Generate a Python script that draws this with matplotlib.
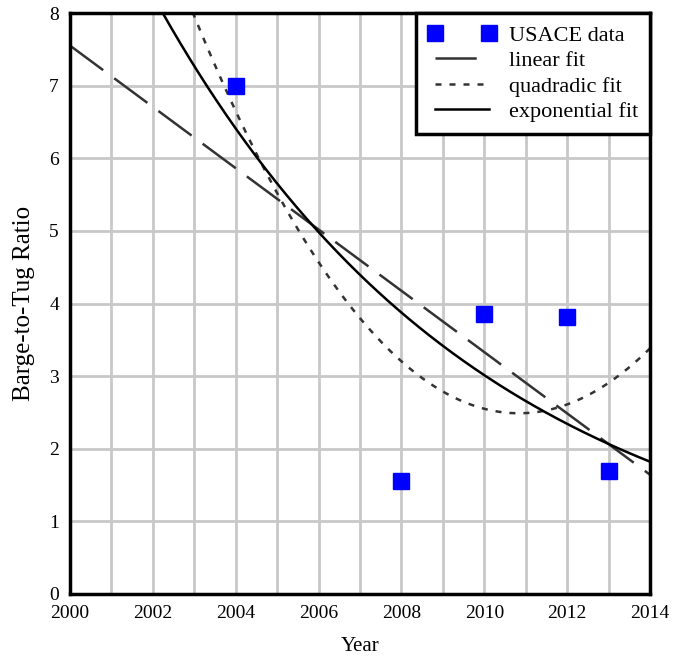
import numpy as np
import matplotlib.pyplot as plt

plt.rcParams['font.family'] = ['Liberation Serif', 'DejaVu Serif']

years = np.array([2004, 2008, 2010, 2012, 2013])
ratio = np.array([7.0, 1.55, 3.85, 3.82, 1.7])

# fits computed from the data points
t = years - 2000.0
lin = np.polyfit(t, ratio, 1)
quad = np.polyfit(t, ratio, 2)

# exponential fit y = a*exp(b*t), least squares in y
best = None
for b in np.linspace(-0.5, 0.0, 5001):
    e = np.exp(b * t)
    a = np.sum(e * ratio) / np.sum(e * e)
    err = np.sum((ratio - a * e) ** 2)
    if best is None or err < best[0]:
        best = (err, a, b)
_, a_exp, b_exp = best

xs = np.linspace(2000, 2014, 400)
ts = xs - 2000.0

fig = plt.figure(figsize=(6.73, 6.61), dpi=100)
ax = fig.add_axes([70 / 673, 67 / 661, 580 / 673, 581 / 661])

ax.plot(years, ratio, 's', color='#0000ff', markersize=12, label='USACE data', zorder=5)
ax.plot(xs, np.polyval(lin, ts), color='#333333', lw=1.8, dashes=(16.5, 5.5), label='linear fit')
ax.plot(xs, np.polyval(quad, ts), color='#333333', lw=1.8, dashes=(2.4, 3.2), label='quadradic fit')
ax.plot(xs, a_exp * np.exp(b_exp * ts), color='black', lw=1.8, label='exponential fit')

ax.set_xlim(2000, 2014)
ax.set_ylim(0, 8)
ax.set_xticks(range(2000, 2015, 2))
ax.set_xticks(range(2000, 2015, 1), minor=True)
ax.set_yticks(range(0, 9))
ax.grid(True, which='both', color='#c8c8c8', lw=2)
ax.set_axisbelow(True)
ax.tick_params(which='both', length=0, labelsize=14, pad=8)
for s in ax.spines.values():
    s.set_linewidth(2.5)

ax.set_xlabel('Year', fontsize=15, labelpad=11)
ax.set_ylabel('Barge-to-Tug Ratio', fontsize=18, labelpad=10)

leg = ax.legend(loc='upper right', numpoints=2, fontsize=16, fancybox=False,
                framealpha=1, edgecolor='black', borderaxespad=0,
                handlelength=3.0, handletextpad=0.6, labelspacing=0.22,
                borderpad=0.55)
leg.get_frame().set_linewidth(2.5)

fig.savefig('out.png', dpi=100)
